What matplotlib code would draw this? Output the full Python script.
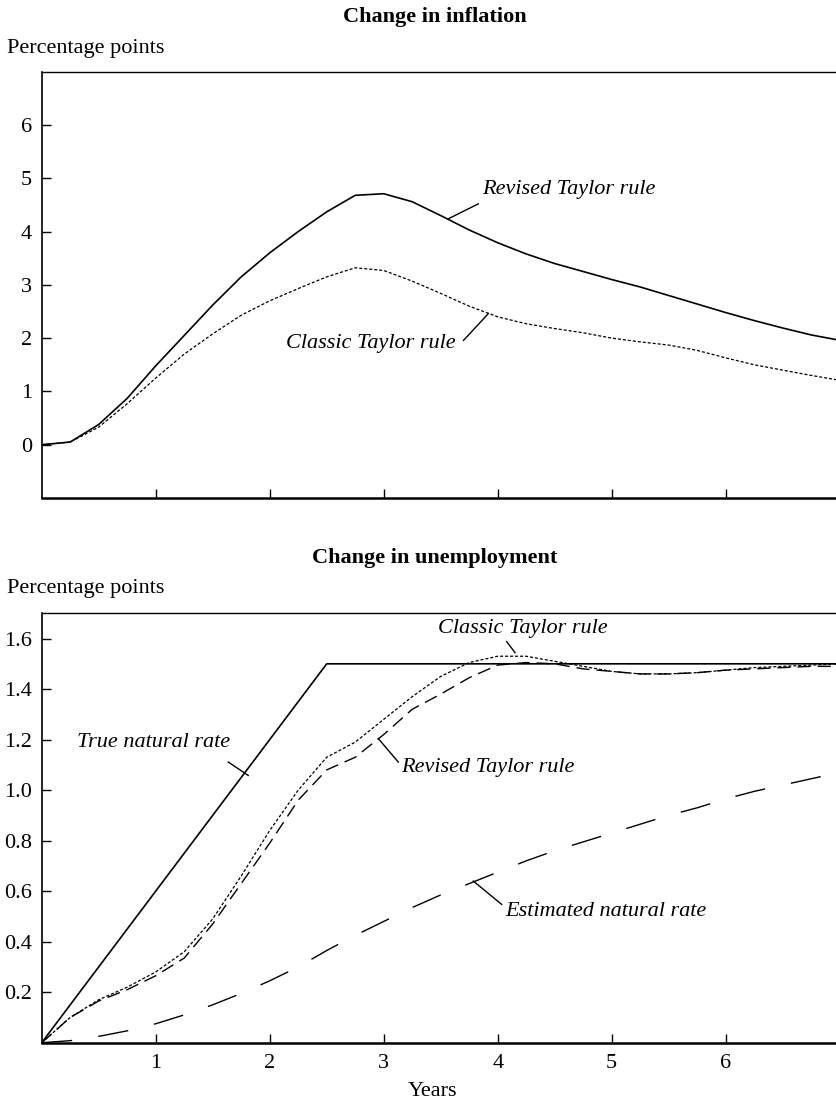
import matplotlib
matplotlib.use("Agg")
import matplotlib.pyplot as plt
import numpy as np

plt.rcParams['font.family'] = ['Liberation Serif', 'DejaVu Serif']
plt.rcParams['lines.scale_dashes'] = False

# Quarterly horizon, years
years = [0.0, 0.25, 0.5, 0.75, 1.0, 1.25, 1.5, 1.75, 2.0, 2.25, 2.5, 2.75,
         3.0, 3.25, 3.5, 3.75, 4.0, 4.25, 4.5, 4.75, 5.0, 5.25, 5.5, 5.75,
         6.0, 6.25, 6.5, 6.75, 7.0]

# Change in inflation (percentage points)
infl_revised = [0.0, 0.05, 0.38, 0.87, 1.48, 2.05, 2.62, 3.15, 3.60, 4.00, 4.37, 4.68,
                4.71, 4.56, 4.30, 4.03, 3.79, 3.58, 3.40, 3.25, 3.10, 2.96, 2.80, 2.64,
                2.48, 2.33, 2.19, 2.06, 1.96]
infl_classic = [0.0, 0.05, 0.33, 0.77, 1.25, 1.70, 2.08, 2.43, 2.70, 2.93, 3.15, 3.32,
                3.27, 3.07, 2.84, 2.60, 2.40, 2.27, 2.18, 2.10, 2.00, 1.93, 1.87, 1.77,
                1.63, 1.50, 1.40, 1.30, 1.21]

# Change in unemployment (percentage points)
true_rate_years = [0.0, 2.5, 7.0]
true_rate = [0.0, 1.5, 1.5]
est_rate = [0.0, 0.008, 0.025, 0.047, 0.075, 0.11, 0.15, 0.195, 0.245, 0.30, 0.365, 0.425,
            0.48, 0.535, 0.585, 0.63, 0.675, 0.72, 0.76, 0.795, 0.83, 0.865, 0.90, 0.93,
            0.965, 0.995, 1.02, 1.045, 1.07]
unemp_classic = [0.0, 0.10, 0.17, 0.22, 0.28, 0.36, 0.49, 0.66, 0.84, 1.00, 1.13, 1.19,
                 1.28, 1.37, 1.45, 1.505, 1.53, 1.53, 1.51, 1.49, 1.47, 1.46, 1.46, 1.465,
                 1.475, 1.485, 1.49, 1.495, 1.50]
unemp_revised = [0.0, 0.10, 0.165, 0.21, 0.265, 0.335, 0.47, 0.63, 0.79, 0.96, 1.08, 1.13,
                 1.22, 1.32, 1.38, 1.445, 1.495, 1.505, 1.50, 1.48, 1.47, 1.46, 1.46, 1.465,
                 1.475, 1.48, 1.485, 1.49, 1.49]

xticks = [1, 2, 3, 4, 5, 6]
infl_yticks = [0, 1, 2, 3, 4, 5, 6]
unemp_yticks = [0.2, 0.4, 0.6, 0.8, 1.0, 1.2, 1.4, 1.6]

FS = 16
W, H = 837, 1104
fig = plt.figure(figsize=(W / 100, H / 100), dpi=100)

def px_box(left, top, right, bottom):
    return [left / W, 1 - bottom / H, (right - left) / W, (bottom - top) / H]

ax1 = fig.add_axes(px_box(41.7, 71.7, 839.7, 498))
ax2 = fig.add_axes(px_box(41.7, 613.3, 839.7, 1042.7))

dotted = (0, (2.2, 1.4))
med_dash = (0, (9.5, 5))
long_dash = (0, (22, 19))

for ax in (ax1, ax2):
    ax.set_xlim(0, 7)
    ax.spines['right'].set_visible(False)
    ax.spines['top'].set_linewidth(1.0)
    ax.spines['left'].set_linewidth(1.2)
    ax.spines['bottom'].set_linewidth(1.8)
    ax.set_xticks(xticks)
    ax.tick_params(direction='in', length=6.5, width=1.0, labelsize=FS, pad=7)

# --- Inflation panel ---
ax1.set_ylim(-1, 7)
ax1.set_yticks(infl_yticks)
ax1.set_yticklabels([str(v) for v in infl_yticks])
ax1.set_xticklabels([])
ax1.plot(years, infl_revised, color='black', lw=1.2)
ax1.plot(years, infl_classic, color='black', lw=0.9, linestyle=dotted)

ax1.plot([3.567, 3.83], [4.24, 4.52], color='black', lw=1.0)
ax1.text(3.86, 4.78, 'Revised Taylor rule', style='italic', fontsize=FS,
         ha='left', va='center')
ax1.plot([3.70, 3.917], [1.957, 2.458], color='black', lw=1.0)
ax1.text(3.63, 1.9, 'Classic Taylor rule', style='italic', fontsize=FS,
         ha='right', va='center')

# --- Unemployment panel ---
ax2.set_ylim(0, 1.7)
ax2.set_yticks(unemp_yticks)
ax2.set_yticklabels([f'{v:.1f}' for v in unemp_yticks])
ax2.set_xticklabels([str(v) for v in xticks])
ax2.tick_params(axis='x', pad=8)
ax2.plot(true_rate_years, true_rate, color='black', lw=1.2)
ax2.plot(years, est_rate, color='black', lw=1.0, linestyle=long_dash)
ax2.plot(years, unemp_revised, color='black', lw=1.0, linestyle=med_dash)
ax2.plot(years, unemp_classic, color='black', lw=0.9, linestyle=dotted)

ax2.plot([1.637, 1.812], [1.111, 1.058], color='black', lw=1.0)
ax2.text(1.65, 1.19, 'True natural rate', style='italic', fontsize=FS,
         ha='right', va='center')
ax2.plot([2.953, 3.128], [1.204, 1.111], color='black', lw=1.0)
ax2.text(3.15, 1.09, 'Revised Taylor rule', style='italic', fontsize=FS,
         ha='left', va='center')
ax2.plot([4.079, 4.152], [1.588, 1.544], color='black', lw=1.0)
ax2.text(4.218, 1.641, 'Classic Taylor rule', style='italic', fontsize=FS,
         ha='center', va='center')
ax2.plot([3.786, 4.035], [0.64, 0.5475], color='black', lw=1.0)
ax2.text(4.07, 0.52, 'Estimated natural rate', style='italic', fontsize=FS,
         ha='left', va='center')

# Titles and axis captions
fig.text(435 / W, 1 - 17 / H, 'Change in inflation', fontsize=FS, fontweight='bold',
         ha='center', va='center')
fig.text(7 / W, 1 - 49 / H, 'Percentage points', fontsize=FS, ha='left', va='center')
fig.text(435 / W, 1 - 558 / H, 'Change in unemployment', fontsize=FS, fontweight='bold',
         ha='center', va='center')
fig.text(7 / W, 1 - 589 / H, 'Percentage points', fontsize=FS, ha='left', va='center')
fig.text(433 / W, 1 - 1091 / H, 'Years', fontsize=FS, ha='center', va='center')

fig.savefig('out.png', dpi=100)
